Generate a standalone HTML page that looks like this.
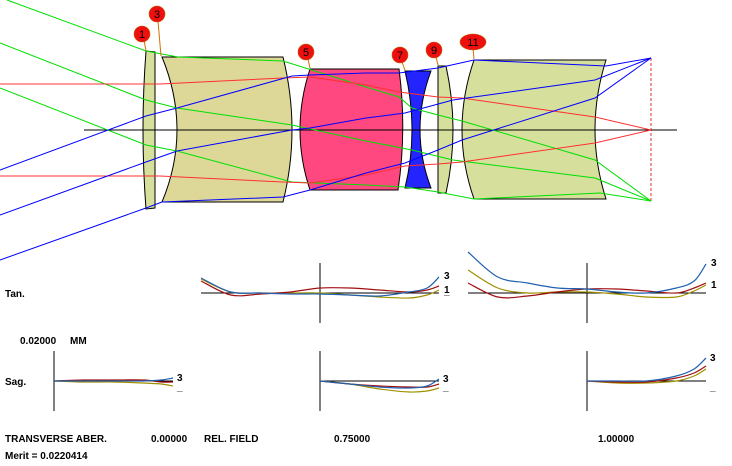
<!DOCTYPE html>
<html><head><meta charset="utf-8">
<style>
html,body{margin:0;padding:0;background:#fff;}
svg{display:block;font-family:"Liberation Sans",Arial,sans-serif;}
.lbl{font-size:10px;font-weight:bold;fill:#000;}
</style></head>
<body>
<svg id="chart" width="732" height="466" viewBox="0 0 732 466">
<g id="layout">
  <line x1="651" y1="58" x2="651" y2="202" stroke="#e03030" stroke-dasharray="3,2"/>
  <path d="M146,51 Q140,130 146,209 L155,208 L155,52 Z" fill="#d6df9c" stroke="#000"/>
  <path d="M162,57 Q192,130 162,202 L283,202 Q301,130 283,57 Z" fill="#ddd898" stroke="#000"/>
  <path d="M310,69 Q290,130 310,190 L398,190 Q407,130 399,69 Z" fill="#ff4880" stroke="#000"/>
  <path d="M405,71 Q419,130 405,188 L431,188 Q409,130 431,71 Z" fill="#2424ff" stroke="#000"/>
  <path d="M438,66 L438,193 L446,193 Q460,130 446,66 Z" fill="#d6df9c" stroke="#000"/>
  <path d="M474,60 Q450,130 474,199 L606,199 Q584,130 606,60 Z" fill="#d6df9c" stroke="#000"/>
  <line x1="84" y1="130" x2="677" y2="130" stroke="#000" stroke-width="1"/>
  <g fill="none" stroke-width="1">
    <polyline stroke="#00e000" points="7,0 146,51 178,57 283,61 366,87 399,97 412,108 438,115 462,121 595,160 651,201"/>
    <polyline stroke="#00e000" points="0,43 146,100 177,108 292,125 366,141 412,150 453,160 595,178 651,201"/>
    <polyline stroke="#00e000" points="0,88 146,145 177,151 292,182 366,185 405,187 438,192 474,199 600,193 651,201"/>
    <polyline stroke="#ff3030" points="0,84 160,84 283,78 310,77 366,85 399,92 438,97 462,98 595,117 651,130"/>
    <polyline stroke="#ff3030" points="0,176 160,176 283,182 310,183 366,175 405,166 438,164 462,162 595,143 651,130"/>
    <polyline stroke="#0000ff" points="0,170 146,116 177,108 292,76 310,75 366,73 399,73 438,68 474,60 606,66 651,58"/>
    <polyline stroke="#0000ff" points="0,215 146,162 177,151 292,130 310,128 366,118 405,113 453,100 474,97 595,80 651,58"/>
    <polyline stroke="#0000ff" points="0,260 146,208 162,202 283,197 310,190 366,173 405,163 438,150 462,140 595,98 651,58"/>
  </g>
  <g stroke="#d07000" stroke-width="1">
    <line x1="144" y1="40" x2="146" y2="51"/><line x1="158" y1="21" x2="161" y2="56"/>
    <line x1="308" y1="59" x2="310" y2="68"/><line x1="402" y1="62" x2="405" y2="70"/>
    <line x1="436" y1="57" x2="438" y2="65"/><line x1="473" y1="48" x2="474" y2="59"/>
  </g>
  <g fill="#ee1010" stroke="#c06000" stroke-width="0.6">
    <circle cx="142" cy="34" r="8"/>
    <circle cx="157" cy="14" r="8"/>
    <circle cx="306" cy="52" r="8"/>
    <circle cx="400" cy="55" r="8"/>
    <circle cx="434" cy="50" r="8"/>
    <ellipse cx="473" cy="42" rx="13" ry="8"/>
  </g>
  <g font-size="11" fill="#000" text-anchor="middle">
    <text x="142" y="38">1</text><text x="157" y="18">3</text><text x="306" y="56">5</text>
    <text x="400" y="59">7</text><text x="434" y="54">9</text><text x="473" y="46">11</text>
  </g>
</g>
<g id="plots"></g>
<g>
  <text class="lbl" x="5" y="297">Tan.</text>
  <text class="lbl" x="5" y="385">Sag.</text>
  <text class="lbl" x="20" y="344">0.02000&#160;&#160;&#160;&#160;&#160;MM</text>
  <text class="lbl" x="5" y="442">TRANSVERSE ABER.</text>
  <text class="lbl" x="151" y="442">0.00000</text>
  <text class="lbl" x="204" y="442">REL. FIELD</text>
  <text class="lbl" x="334" y="442">0.75000</text>
  <text class="lbl" x="598" y="442">1.00000</text>
  <text class="lbl" x="5" y="459">Merit = 0.0220414</text>
</g>
</svg>
<script>
const tanPupil = [-1, -0.75, -0.5, -0.25, 0, 0.25, 0.5, 0.75, 0.9, 1];
const tan075Blue = [15, 1, 0, -1, -1, -2, -3, 1, 5, 16];
const tan075Red = [12, -2, -1, 1, 5, 5, 3, 1, 3, 7];
const tan075Olive = [14, 1, 0, 0, 0, -2, -4, -5, -2, 3];
const tan100Blue = [41, 16, 10, 5, 4, 1, 0, 5, 12, 29];
const tan100Red = [10, -4, -3, 1, 4, 4, 2, 0, 5, 10];
const tan100Olive = [23, 5, 0, 1, 1, -1, -4, -4, 2, 8];
const sagPupil = [0, 0.25, 0.5, 0.75, 0.9, 1];
const sag000Blue = [0, 0, 0, 0, 1, 3];
const sag000Red = [0, 1, 1, 1, -1, -1];
const sag000Olive = [0, -1, -1, -2, -3, -5];
const sag075Blue = [0, -3, -6, -7, -5, 2];
const sag075Red = [0, -3, -5, -6, -6, -3];
const sag075Olive = [0, -3, -8, -11, -10, -7];
const sag100Blue = [0, 0, 0, 5, 12, 23];
const sag100Red = [0, -1, -1, 3, 8, 15];
const sag100Olive = [0, -2, -2, 0, 5, 12];

const NS = 'http://www.w3.org/2000/svg';
const g = document.getElementById('plots');
const COL = {blue:'#2060b0', red:'#a01010', olive:'#a09000'};
function mk(tag, attrs){const e=document.createElementNS(NS,tag);for(const k in attrs)e.setAttribute(k,attrs[k]);g.appendChild(e);return e;}
function xScale(cx, p){return cx + p*119;}
function yScale(cy, v){return cy - v;}
function smooth(pts){
  let d='M'+pts[0][0]+','+pts[0][1];
  for(let i=0;i<pts.length-1;i++){
    const p0=pts[i-1]||pts[i],p1=pts[i],p2=pts[i+1],p3=pts[i+2]||p2;
    d+=' C'+(p1[0]+(p2[0]-p0[0])/6)+','+(p1[1]+(p2[1]-p0[1])/6)+' '+(p2[0]-(p3[0]-p1[0])/6)+','+(p2[1]-(p3[1]-p1[1])/6)+' '+p2[0]+','+p2[1];
  }
  return d;
}
function axes(cx, cy, x0, x1, name){
  const h=mk('line',{x1:x0,y1:cy,x2:x1,y2:cy,stroke:'#000'});
  
  
  const v=mk('line',{x1:cx,y1:cy-30,x2:cx,y2:cy+30,stroke:'#000'});
  
  
}
function curve(cx, cy, pupil, vals, color, name){
  const pts=pupil.map((p,i)=>[xScale(cx,p), yScale(cy,vals[i])]);
  const e=mk('path',{d:smooth(pts),fill:'none',stroke:COL[color],'stroke-width':1.2});
  
  
  return pts[pts.length-1];
}
function endLabels(x, ys){
  ys.forEach(([t,y])=>{
    const e=mk('text',{x:x,y:y,'font-size':10,'font-weight':'bold',fill:'#000'});
    e.textContent=t;
    
    
  });
}
axes(320, 293, 201, 439, 'tan-075');
curve(320,293,tanPupil,tan075Olive,'olive','tan-075-olive');
curve(320,293,tanPupil,tan075Red,'red','tan-075-red');
const e1=curve(320,293,tanPupil,tan075Blue,'blue','tan-075-blue');
endLabels(444,[['3',e1[1]+2],['1',293],['_',294]]);
axes(587, 293, 468, 706, 'tan-100');
curve(587,293,tanPupil,tan100Olive,'olive','tan-100-olive');
curve(587,293,tanPupil,tan100Red,'red','tan-100-red');
const e2=curve(587,293,tanPupil,tan100Blue,'blue','tan-100-blue');
endLabels(711,[['3',e2[1]+2],['1',288]]);
[[54,sag000Blue,sag000Red,sag000Olive,'sag-000',173],[320,sag075Blue,sag075Red,sag075Olive,'sag-075',439],[587,sag100Blue,sag100Red,sag100Olive,'sag-100',706]].forEach(([cx,b,r,o,n,xe])=>{
  axes(cx,381,cx,xe,n);
  curve(cx,381,sagPupil,o,'olive',n+'-olive');
  curve(cx,381,sagPupil,r,'red',n+'-red');
  const e=curve(cx,381,sagPupil,b,'blue',n+'-blue');
  endLabels(xe+4,[['3',e[1]+3],['_',390]]);
});
</script>
</body></html>
